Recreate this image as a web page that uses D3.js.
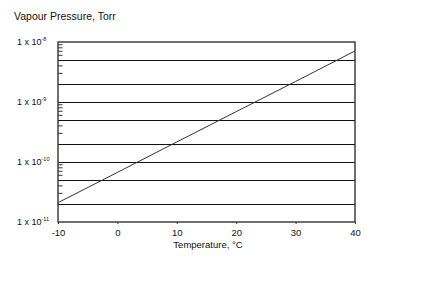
<!DOCTYPE html>
<html>
<head>
<meta charset="utf-8">
<script src="https://cdn.jsdelivr.net/npm/d3@7"></script>
<style>
  body { margin: 0; background: #fff; }
  text { font-family: "Liberation Sans", Arial, sans-serif; fill: #111; }
</style>
</head>
<body>
<div id="chart"></div>
<script>
// vapour pressure chart, log y scale
const svgWidth = 423;
const svgHeight = 290;
const margin = { top: 42, right: 68, bottom: 68, left: 58 };
const width = svgWidth - margin.left - margin.right;
const height = svgHeight - margin.top - margin.bottom;

// data
const temps = [-10, 0, 10, 20, 30, 40];
const pressures = [2.1e-11, 6.7e-11, 2.16e-10, 6.9e-10, 2.2e-9, 7.1e-9];
const xTicks = [-10, 0, 10, 20, 30, 40];
const yMajor = [1e-11, 1e-10, 1e-9, 1e-8];
const yExponents = ["-11", "-10", "-9", "-8"];
const gridValues = [2e-11, 5e-11, 1e-10, 2e-10, 5e-10, 1e-9, 2e-9, 5e-9];
const minorValues = [3e-11, 4e-11, 6e-11, 7e-11, 8e-11, 9e-11,
                     3e-10, 4e-10, 6e-10, 7e-10, 8e-10, 9e-10,
                     3e-9, 4e-9, 6e-9, 7e-9, 8e-9, 9e-9];

const svg = d3.select("#chart")
    .append("svg")
    .attr("width", svgWidth)
    .attr("height", svgHeight)
    .append("g")
    .attr("transform", `translate(${margin.left},${margin.top})`);

const x = d3.scaleLinear().domain([-10, 40]).range([0, width]);
const y = d3.scaleLog().domain([1e-11, 1e-8]).range([height, 0]);

// horizontal gridlines
svg.selectAll(".grid")
    .data(gridValues)
    .enter()
    .append("line")
    .attr("x1", 0)
    .attr("x2", width)
    .attr("y1", d => Math.round(y(d)) + 0.5)
    .attr("y2", d => Math.round(y(d)) + 0.5)
    .attr("stroke", "#111")
    .attr("stroke-width", 1.1);

// minor ticks inside the left edge
svg.selectAll(".minor")
    .data(minorValues)
    .enter()
    .append("line")
    .attr("x1", 0)
    .attr("x2", 4.5)
    .attr("y1", d => y(d))
    .attr("y2", d => y(d))
    .attr("stroke", "#333")
    .attr("stroke-width", 1);

// frame
svg.append("rect")
    .attr("x", 0)
    .attr("y", 0)
    .attr("width", width)
    .attr("height", height)
    .attr("fill", "none")
    .attr("stroke", "#333")
    .attr("stroke-width", 1.4);

// x axis ticks and labels
const xAxis = svg.append("g")
    .attr("transform", `translate(0, ${height})`)
    .call(d3.axisBottom(x).tickValues(xTicks).tickSize(2).tickPadding(5).tickFormat(d => d));
xAxis.select(".domain").remove();
xAxis.selectAll("line").attr("stroke", "#333");
xAxis.selectAll("text")
    .attr("font-size", "9.5px")
    .attr("font-family", "Liberation Sans, Arial, sans-serif")
    .attr("fill", "#111");

// y labels "1 x 10^n"
const yLab = svg.selectAll(".ylab")
    .data(yMajor)
    .enter()
    .append("text")
    .attr("x", -41)
    .attr("y", d => y(d) + 3)
    .attr("font-size", "9px");
yLab.append("tspan").text("1 x 10");
yLab.append("tspan")
    .text((d, i) => yExponents[i])
    .attr("font-size", "5.5px")
    .attr("dy", -4);

// the vapour pressure line
const line = d3.line()
    .x((d, i) => x(temps[i]))
    .y(d => y(d));
svg.append("path")
    .datum(pressures)
    .attr("d", line)
    .attr("fill", "none")
    .attr("stroke", "#333")
    .attr("stroke-width", 1);

// titles
svg.append("text")
    .text("Vapour Pressure, Torr")
    .attr("x", 14 - margin.left)
    .attr("y", 20 - margin.top)
    .attr("font-size", "10.5px");

svg.append("text")
    .text("Temperature, °C")
    .attr("x", 208 - margin.left)
    .attr("y", 248 - margin.top)
    .attr("text-anchor", "middle")
    .attr("font-size", "9.5px");
</script>
</body>
</html>
